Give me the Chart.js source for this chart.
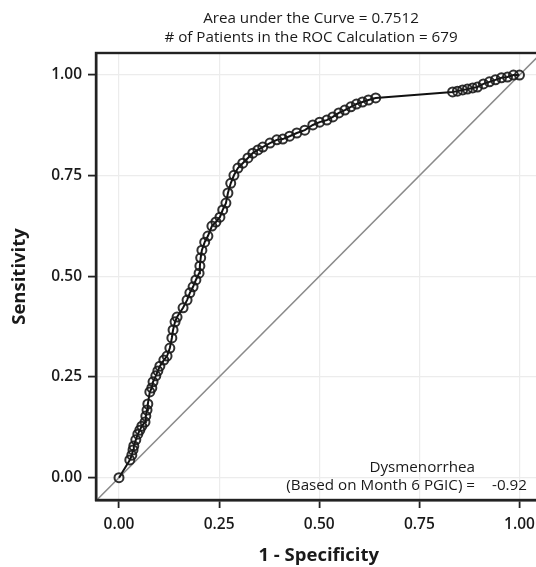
<!DOCTYPE html>
<html>
<head>
<meta charset="utf-8">
<script src="https://cdn.jsdelivr.net/npm/chart.js@4/dist/chart.umd.min.js"></script>
<style>
  html, body { margin: 0; padding: 0; background: #fff; overflow: hidden; }
  #wrap { position: relative; width: 548px; height: 567px; }
</style>
</head>
<body>
<div id="wrap"><canvas id="roc"></canvas></div>
<script>
// ROC curve points (1 - specificity, sensitivity)
const fprValues = [
  0.000, 0.027, 0.032, 0.035, 0.037, 0.042, 0.047, 0.052, 0.057, 0.065,
  0.067, 0.070, 0.072, 0.077, 0.082, 0.085, 0.092, 0.097, 0.102, 0.112,
  0.120, 0.127, 0.132, 0.135, 0.140, 0.145, 0.160, 0.170, 0.177, 0.185,
  0.192, 0.200, 0.202, 0.204, 0.207, 0.214, 0.222, 0.232, 0.242, 0.252,
  0.259, 0.267, 0.272, 0.279, 0.287, 0.297, 0.309, 0.322, 0.334, 0.347,
  0.359, 0.377, 0.394, 0.409, 0.426, 0.444, 0.464, 0.484, 0.501, 0.519,
  0.534, 0.549, 0.564, 0.579, 0.593, 0.608, 0.623, 0.641, 0.833, 0.845,
  0.858, 0.870, 0.883, 0.895, 0.910, 0.925, 0.940, 0.955, 0.970, 0.985,
  1.000
];
const tprValues = [
  0.000, 0.044, 0.056, 0.069, 0.079, 0.094, 0.108, 0.118, 0.128, 0.138,
  0.153, 0.168, 0.183, 0.213, 0.223, 0.238, 0.253, 0.265, 0.277, 0.292,
  0.302, 0.322, 0.347, 0.367, 0.387, 0.399, 0.422, 0.441, 0.459, 0.474,
  0.491, 0.508, 0.526, 0.546, 0.565, 0.585, 0.600, 0.625, 0.635, 0.647,
  0.665, 0.682, 0.707, 0.731, 0.751, 0.769, 0.781, 0.794, 0.806, 0.814,
  0.821, 0.831, 0.839, 0.841, 0.848, 0.856, 0.863, 0.876, 0.883, 0.888,
  0.896, 0.906, 0.913, 0.921, 0.928, 0.933, 0.938, 0.943, 0.958, 0.960,
  0.963, 0.965, 0.968, 0.970, 0.978, 0.983, 0.988, 0.993, 0.995, 1.000,
  1.000
];
const refLine = [-0.06, 1.06];
const tickValues = [0, 0.25, 0.5, 0.75, 1];
const titleLines = ["Area under the Curve = 0.7512", "# of Patients in the ROC Calculation = 679"];
const noteLabel = "Dysmenorrhea";
const noteText = "(Based on Month 6 PGIC) =";
const noteValue = "-0.92";

const FONT = "'Open Sans', 'Noto Sans', sans-serif";
const INK = "#1a1a1a";

const rocPoints = fprValues.map((x, i) => ({ x: x, y: tprValues[i] }));
const diagPoints = refLine.map((v) => ({ x: v, y: v }));

const extras = {
  id: "extras",
  afterDraw(chart) {
    const { ctx, chartArea: a } = chart;
    ctx.save();
    // frame
    ctx.strokeStyle = "#222";
    ctx.lineWidth = 2.4;
    ctx.strokeRect(a.left, a.top, a.right - a.left, a.bottom - a.top);
    // titles
    ctx.fillStyle = INK;
    ctx.font = "15.2px " + FONT;
    ctx.textAlign = "center";
    ctx.textBaseline = "alphabetic";
    ctx.fillText(titleLines[0], 311, 23);
    ctx.fillText(titleLines[1], 311, 42);
    // inset note
    ctx.font = "15.2px " + FONT;
    ctx.textAlign = "right";
    ctx.fillText(noteLabel, 475, 472);
    ctx.fillText(noteText, 475, 490);
    ctx.textAlign = "left";
    ctx.fillText(noteValue, 492, 490);
    ctx.restore();
  },
};

function fixedTicks(scale) {
  scale.ticks = tickValues.map((v) => ({ value: v }));
}

new Chart(document.getElementById("roc"), {
  type: "scatter",
  data: {
    datasets: [
      {
        label: "Reference",
        data: diagPoints,
        showLine: true,
        borderColor: "#8a8a8a",
        borderWidth: 1.5,
        pointRadius: 0,
        order: 2,
      },
      {
        label: "ROC",
        data: rocPoints,
        showLine: true,
        borderColor: "#111",
        borderWidth: 2,
        pointStyle: "circle",
        pointRadius: 4.5,
        pointBorderWidth: 2,
        pointBorderColor: "rgba(25,25,25,0.9)",
        pointBackgroundColor: "rgba(0,0,0,0)",
        order: 1,
      },
    ],
  },
  options: {
    responsive: true,
    maintainAspectRatio: false,
    animation: false,
    layout: { padding: { top: 53, right: 6, left: 0, bottom: 0 } },
    plugins: {
      legend: { display: false },
      tooltip: { enabled: false },
    },
    scales: {
      x: {
        type: "linear",
        min: -0.0574,
        max: 1.055,
        afterBuildTicks: fixedTicks,
        afterFit: (s) => { s.height = 67; },
        border: { color: "#222", width: 2.4 },
        grid: { color: "#ececec", lineWidth: 1.2, tickColor: "#222", tickLength: 8, tickWidth: 1.8 },
        ticks: {
          color: INK,
          padding: 7,
          font: { family: FONT, size: 15.5, weight: "600" },
          callback: (v) => Number(v).toFixed(2),
        },
        title: {
          display: true,
          text: "1 - Specificity",
          color: INK,
          padding: { top: 0, bottom: 0 },
          font: { family: FONT, size: 18.5, weight: "bold" },
        },
      },
      y: {
        type: "linear",
        min: -0.0554,
        max: 1.0547,
        afterBuildTicks: fixedTicks,
        afterFit: (s) => { s.width = 96; },
        border: { color: "#222", width: 2.4 },
        grid: { color: "#ececec", lineWidth: 1.2, tickColor: "#222", tickLength: 8, tickWidth: 1.8 },
        ticks: {
          color: INK,
          padding: 6,
          font: { family: FONT, size: 15.5, weight: "600" },
          callback: (v) => Number(v).toFixed(2),
        },
        title: {
          display: true,
          text: "Sensitivity",
          color: INK,
          padding: { top: 9, bottom: 0 },
          font: { family: FONT, size: 18.5, weight: "bold" },
        },
      },
    },
  },
  plugins: [extras],
});
</script>
</body>
</html>
